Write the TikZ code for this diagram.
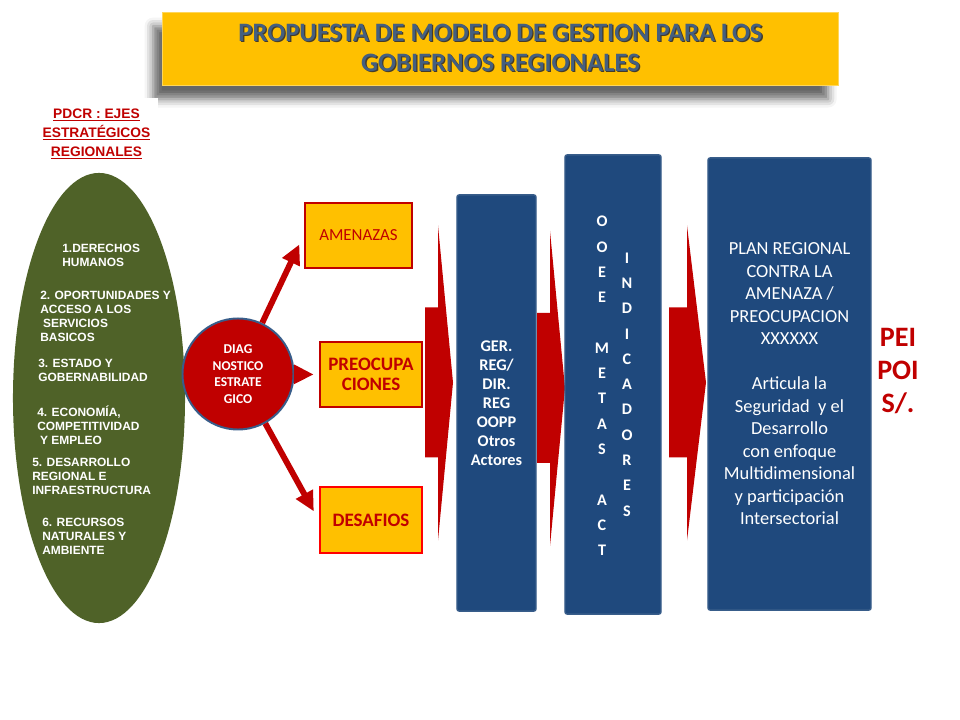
\documentclass[tikz,border=0pt]{standalone}
\usepackage{fontspec}
\setmainfont{Carlito}
\newfontfamily\arialfont{Liberation Sans}
\usetikzlibrary{shapes.geometric,arrows.meta,shadows.blur}
\definecolor{titleyellow}{RGB}{255,192,0}
\definecolor{titleedge}{RGB}{255,214,90}
\definecolor{titletext}{RGB}{68,95,128}
\definecolor{titleshade}{RGB}{70,60,40}
\definecolor{darkred}{RGB}{192,0,0}
\definecolor{brightred}{RGB}{255,0,0}
\definecolor{olive}{RGB}{79,98,40}
\definecolor{navy}{RGB}{31,73,125}
\definecolor{navyline}{RGB}{56,93,138}
% texto con sombra para el titulo
\newcommand{\shadetext}[1]{\rlap{\hspace{0.9pt}\raisebox{-0.9pt}{\color{titleshade}#1}}#1}
\tikzset{
  titlebox/.style = {rectangle, fill=titleyellow, draw=titleedge, line width=0.6pt,
    align=center, inner sep=0pt, text=titletext,
    font=\fontsize{18.9}{21.3}\selectfont\bfseries,
    blur shadow={shadow xshift=-7pt, shadow yshift=-10pt,
      shadow blur radius=6pt, shadow opacity=60}},
  ejetitle/.style = {rectangle, fill=white, align=center, inner sep=0pt,
    text=darkred, font=\arialfont\fontsize{9.8}{13.5}\selectfont\bfseries},
  eje/.style = {align=left, anchor=west, inner sep=0pt, text=white,
    font=\arialfont\fontsize{8.5}{10}\selectfont\bfseries},% ejes del PDCR
  diag/.style = {circle, fill=darkred, draw=navyline, line width=1.4pt,
    align=center, inner sep=0pt, text=white,
    font=\fontsize{9.6}{11.9}\selectfont\bfseries},
  factor/.style = {rectangle, fill=titleyellow, draw=darkred, line width=2pt,
    align=center, inner sep=0pt, text=darkred,
    minimum width=2.55cm, minimum height=1.625cm},% amenaza / preocupacion / desafio
  column/.style = {rectangle, rounded corners=1.5pt, fill=navy, draw=navyline,
    line width=1pt, align=center, inner sep=0pt, text=white},
  letters/.style = {align=center, inner sep=0pt, text=white,
    font=\fontsize{11.5}{18}\selectfont\bfseries},
  diagarrow/.style = {-{Triangle[length=14pt,width=13pt]}, draw=darkred,
    line width=4.2pt},
  blockarrow/.style = {fill=darkred}
}
% flecha de bloque: inicio del cuerpo, base de la punta, punta, centro vertical
\newcommand{\blockarrow}[4]{%
  \fill[blockarrow] (#1,#4-75) -- (#2,#4-75) -- (#2,#4-157) -- (#3,#4)
    -- (#2,#4+158) -- (#2,#4+75) -- (#1,#4+75) -- cycle;}

\begin{document}
\begin{tikzpicture}[x=0.025cm,y=-0.025cm]
\useasboundingbox (0,0) rectangle (960,720);

% titulo
\node [titlebox, minimum width=16.875cm, minimum height=1.825cm] (title) at (500.5,48.5)
  {\shadetext{PROPUESTA DE MODELO DE GESTION PARA LOS}\\\shadetext{GOBIERNOS REGIONALES}};

% ejes estrategicos
\node [ejetitle, minimum width=3.075cm, minimum height=1.8cm] (pdcr) at (96.5,134)
  {\underline{PDCR : EJES}\\\underline{ESTRAT\'EGICOS}\\\underline{REGIONALES}};
\node [ellipse, fill=olive, minimum width=4.3cm, minimum height=11.25cm] (ejes) at (99,398) {};
\node [eje] (e1) at (62,255.5) {1.DERECHOS\\HUMANOS};
\node [eje] (e2) at (40,316) {2. OPORTUNIDADES Y\\ACCESO A LOS\\\hspace{2pt}SERVICIOS\\BASICOS};
\node [eje] (e3) at (38,370) {3. ESTADO Y\\GOBERNABILIDAD};
\node [eje] (e4) at (37,425) {4. ECONOM\'IA,\\COMPETITIVIDAD\\\hspace{2pt}Y EMPLEO};
\node [eje] (e5) at (32,476) {5. DESARROLLO\\REGIONAL E\\INFRAESTRUCTURA};
\node [eje] (e6) at (42,536) {6. RECURSOS\\NATURALES Y\\AMBIENTE};

% diagnostico
\node [diag, minimum size=2.775cm] (dx) at (238,374) {DIAG\\NOSTICO\\ESTRATE\\GICO};
\node [factor, minimum width=2.675cm, font=\fontsize{12}{14}\selectfont] (ame) at (358.5,235.5) {AMENAZAS};
\node [factor, font=\fontsize{13.5}{14.4}\selectfont\bfseries] (pre) at (371,374.5) {PREOCUPA\\CIONES};
\node [factor, draw=brightred, minimum height=1.65cm, font=\fontsize{13.5}{14.4}\selectfont\bfseries] (des) at (371,520) {DESAFIOS};

\draw [diagarrow, shorten >=7pt] (dx) -- (ame.west);
\draw [diagarrow, shorten >=3.5pt] (dx) -- (pre.west);
\draw [diagarrow, shorten >=7pt] (dx) -- (des.west);

% flechas de bloque
\blockarrow{425}{438}{453}{382.5}
\blockarrow{537}{550}{565}{388}
\blockarrow{669}{687}{706}{382.5}

% columnas
\node [column, minimum width=1.975cm, minimum height=10.4cm,
  font=\fontsize{11.6}{13.5}\selectfont\bfseries] (ger) at (496.5,403)
  {GER.\\REG/\\DIR.\\REG\\OOPP\\Otros\\Actores};
\node [column, minimum width=2.4cm, minimum height=11.475cm] (ooee) at (613,384.5) {};
\node [letters] (metas) at (602,386) {O\\O\\E\\E\\[18pt]M\\E\\T\\A\\S\\[18pt]A\\C\\T};
\node [letters] (indic) at (627,384.5) {I\\N\\D\\I\\C\\A\\D\\O\\R\\E\\S};
\node [column, minimum width=4.075cm, minimum height=11.3cm,
  font=\fontsize{13.1}{16}\selectfont] (plan) at (789.5,384)
  {PLAN REGIONAL\\CONTRA LA\\AMENAZA /\\PREOCUPACION\\XXXXXX\\[16pt]Articula la\\Seguridad\ \ y el\\Desarrollo\\con enfoque\\Multidimensional\\y participaci\'on\\Intersectorial};

\node [align=center, inner sep=0pt, text=darkred,
  font=\fontsize{20}{23.5}\selectfont\bfseries] (pei) at (898,371) {PEI\\POI\\S/.};
\end{tikzpicture}
\end{document}
